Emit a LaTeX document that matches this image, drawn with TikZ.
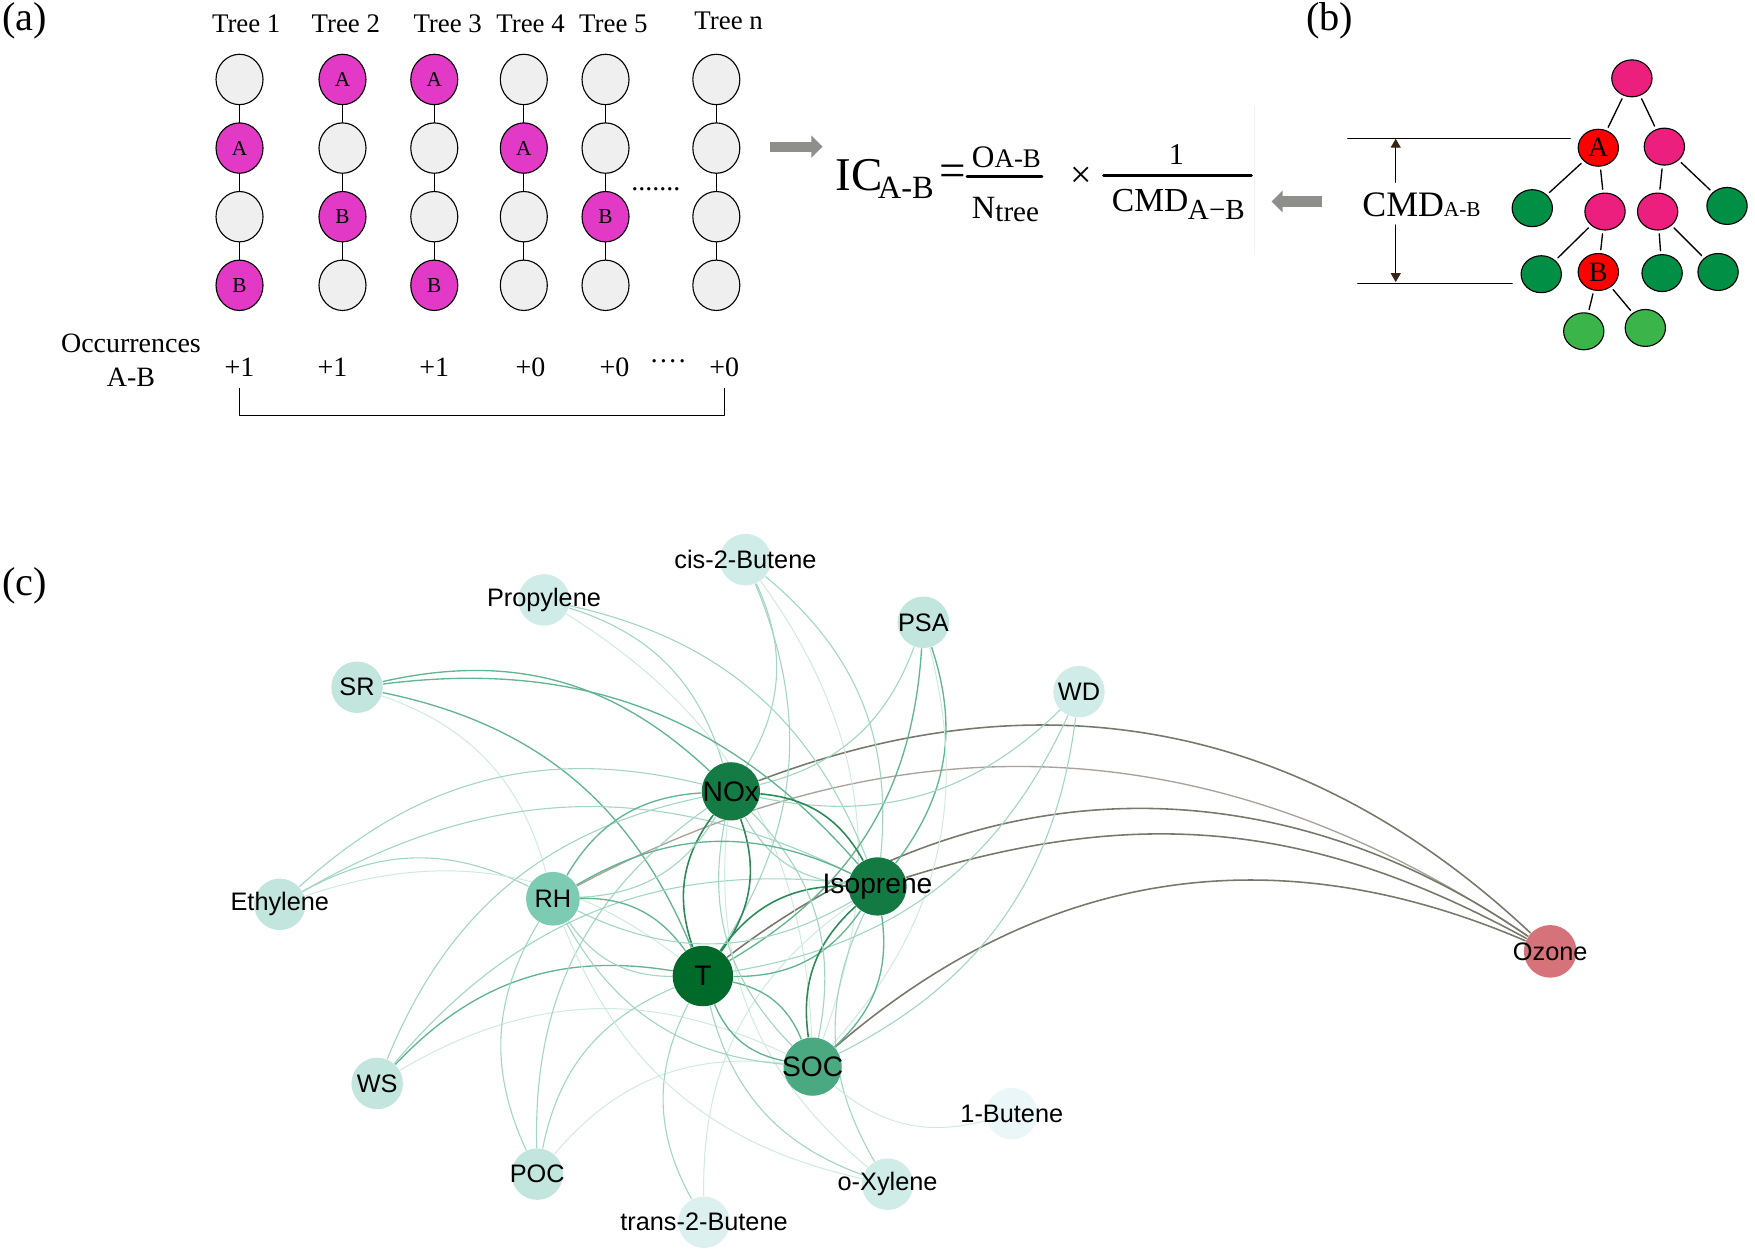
\documentclass[tikz,border=0pt]{standalone}
\usepackage{fontspec}
\setmainfont{Liberation Serif}
\newfontfamily\netfont{Liberation Sans}
\usetikzlibrary{shapes.geometric,arrows.meta}
\pgfdeclarelayer{edges}
\pgfsetlayers{edges,main}

% panel (a) and (b)
\definecolor{cellgray}{HTML}{EFEFEF}
\definecolor{hitmag}{HTML}{E23AC6}
\definecolor{treepink}{HTML}{EC1F7E}
\definecolor{treered}{HTML}{FF0000}
\definecolor{treegreen}{HTML}{008F45}
\definecolor{leafgreen}{HTML}{3BB54A}
\definecolor{arrowgray}{HTML}{8E8E8A}
\definecolor{tipbrown}{HTML}{3A2416}
% panel (c)
\definecolor{pale}{HTML}{C2E6DE}
\definecolor{paler}{HTML}{D0ECE8}
\definecolor{trpale}{HTML}{DCF1EF}
\definecolor{palest}{HTML}{EAF6F8}
\definecolor{rhgreen}{HTML}{7DCBB3}
\definecolor{socgreen}{HTML}{4BA982}
\definecolor{isogreen}{HTML}{147A43}
\definecolor{noxgreen}{HTML}{157B45}
\definecolor{tgreen}{HTML}{006A2B}
\definecolor{ozonered}{HTML}{D5727A}
\definecolor{edgevl}{HTML}{CFEADF}
\definecolor{edgel}{HTML}{A3D6C2}
\definecolor{edgem}{HTML}{63B591}
\definecolor{edged}{HTML}{2A8A57}
\definecolor{ozdark}{HTML}{77776A}
\definecolor{ozlight}{HTML}{A8A29A}

\tikzset{
  panel/.style={font=\fontsize{18}{20}\selectfont},
  treelab/.style={font=\fontsize{12}{14}\selectfont},
  occ/.style={font=\fontsize{12.5}{15}\selectfont},
  cell/.style={draw, ellipse, line width=0.5pt, fill=cellgray, minimum width=21pt,
    minimum height=22.5pt, inner sep=0pt, font=\fontsize{9.5}{10}\selectfont},
  hit/.style={fill=hitmag},
  bigarrow/.style={line width=4.5pt, draw=arrowgray, line cap=butt,
    -{Triangle[length=5pt,width=9.5pt]}},
  tn/.style={draw, ellipse, line width=0.5pt, minimum width=18pt, minimum height=16.5pt,
    inner sep=0pt, font=\fontsize{12.5}{13}\selectfont},
  tedge/.style={line width=0.6pt, shorten <=1.5pt, shorten >=1.5pt},
  dimarrow/.style={line width=0.5pt, -{Triangle[length=4pt,width=4.5pt,color=tipbrown]}},
  vx/.style={circle, inner sep=0pt, minimum size=23pt, fill=pale},
  hub/.style={vx, minimum size=26pt},
  vlab/.style={font=\netfont\fontsize{11.3}{12}\selectfont},
  hlab/.style={font=\netfont\fontsize{12.6}{13}\selectfont},
  arc/.style={bend left=28},
  e1/.style={arc, draw=edgevl, line width=0.45pt},
  e2/.style={arc, draw=edgel, line width=0.5pt},
  e3/.style={arc, draw=edgem, line width=0.6pt},
  e4/.style={arc, draw=edged, line width=0.7pt},
  ozd/.style={arc, draw=ozdark, line width=0.7pt},
  ozl/.style={arc, draw=ozlight, line width=0.6pt},
}

\begin{document}
\begin{tikzpicture}[x=0.5pt,y=0.5pt,line cap=round,line join=round]
\useasboundingbox (0,0) rectangle (1568,-1118);

% ---------- (a) ----------
\node[panel] (pa) at (22,-19) {(a)};
\foreach \c/\x in {1/220,2/309,3/400,4/474,5/548}
  \node[treelab] (lab\c) at (\x,-21) {Tree \c};
\node[treelab] (labn) at (651,-19) {Tree n};

\foreach \c/\x/\pat in {1/214/{x,A,x,B},2/306/{A,x,B,x},3/388/{A,x,x,B},
                        4/468/{x,A,x,x},5/541/{x,x,B,x},n/640/{x,x,x,x}}{
  \foreach \l [count=\r] in \pat {
    \pgfmathsetmacro\yy{-71-61.3*(\r-1)}
    \if\l x
      \node[cell] (t\c r\r) at (\x,\yy) {};
    \else
      \node[cell,hit] (t\c r\r) at (\x,\yy) {\l};
    \fi
  }
  \foreach \r in {1,2,3}{
    \pgfmathtruncatemacro\s{\r+1}
    \draw[line width=0.5pt] (t\c r\r) -- (t\c r\s);
  }
}
\node[occ] (gapdots) at (586,-169) {.......};

\node[occ, align=center] (occlab) at (117,-322) {Occurrences\\A-B};
\foreach \k/\x/\v in {1/214/+1,2/297/+1,3/388/+1,4/474/+0,5/549/+0,6/647/+0}
  \node[occ] (occ\k) at (\x,-328) {\v};
\node[occ] (occdots) at (597,-326) {····};
\coordinate (brl) at (214,-347);
\coordinate (brr) at (647,-347);
\draw[line width=0.5pt] (brl) -- ++(0,-24) -| (brr);

% ---------- formula ----------
\coordinate (ra1) at (688,-131);
\coordinate (ra2) at (735,-131);
\draw[bigarrow] (ra1) -- (ra2);
\node[anchor=base west, inner sep=0pt, font=\fontsize{21}{22}\selectfont] (ic) at (746,-170) {IC};
\node[anchor=base west, inner sep=0pt, font=\fontsize{14.5}{15}\selectfont] (icsub) at (784,-177) {A-B};
\node[inner sep=0pt, font=\fontsize{21}{22}\selectfont] (eq) at (851,-157) {=};
\coordinate (f1l) at (864,-158);
\coordinate (f1r) at (931,-158);
\draw[line width=1.2pt] (f1l) -- (f1r);
\node[anchor=base west, inner sep=0pt, font=\fontsize{14}{15}\selectfont] (onum) at (868,-150)
  {O{\fontsize{12}{13}\selectfont A-B}};
\node[anchor=base west, inner sep=0pt, font=\fontsize{14.5}{15}\selectfont] (nden) at (868,-195)
  {N\raisebox{-1.5pt}{\fontsize{13}{14}\selectfont tree}};
\node[inner sep=0pt, font=\fontsize{17}{18}\selectfont] (times) at (966,-158) {×};
\coordinate (f2l) at (986,-157);
\coordinate (f2r) at (1118,-157);
\draw[line width=1.3pt] (f2l) -- (f2r);
\node[anchor=base, inner sep=0pt, font=\fontsize{13.5}{14}\selectfont] (one) at (1051,-147) {1};
\node[anchor=base west, inner sep=0pt, font=\fontsize{15}{16}\selectfont] (cmdden) at (993,-189) {CMD};
\node[anchor=base west, inner sep=0pt, font=\fontsize{13}{14}\selectfont] (cmdsub) at (1061,-196) {A−B};
\coordinate (fl1) at (1121,-95);
\coordinate (fl2) at (1121,-226);
\draw[black!5] (fl1) -- (fl2);
\coordinate (la1) at (1181,-180);
\coordinate (la2) at (1136,-180);
\draw[bigarrow] (la1) -- (la2);

% ---------- (b) ----------
\node[panel] (pb) at (1188,-19) {(b)};
\node[tn, fill=treepink] (root) at (1458,-70) {};
\node[tn, fill=treered] (na) at (1428,-132) {A};
\node[tn, fill=treepink] (p1) at (1487,-131) {};
\node[tn, fill=treegreen] (g1) at (1369,-186) {};
\node[tn, fill=treepink] (p2) at (1434,-189) {};
\node[tn, fill=treepink] (p3) at (1481,-189) {};
\node[tn, fill=treegreen] (g2) at (1543,-184) {};
\node[tn, fill=treegreen] (g3) at (1377,-245) {};
\node[tn, fill=treered] (nb) at (1428,-243) {B};
\node[tn, fill=treegreen] (g4) at (1485,-244) {};
\node[tn, fill=treegreen] (g5) at (1535,-243) {};
\node[tn, fill=leafgreen] (l1) at (1415,-296) {};
\node[tn, fill=leafgreen] (l2) at (1470,-293) {};
\foreach \u/\v in {root/na,root/p1,na/g1,na/p2,p1/p3,p1/g2,p2/g3,p2/nb,p3/g4,p3/g5,nb/l1,nb/l2}
  \draw[tedge] (\u) -- (\v);

\coordinate (dtl) at (1204,-123.5);
\coordinate (dtr) at (1403,-123.5);
\coordinate (dbl) at (1213,-253);
\coordinate (dbr) at (1351,-253);
\draw[line width=0.6pt] (dtl) -- (dtr);
\draw[line width=0.6pt] (dbl) -- (dbr);
\node[inner sep=0pt] (cmd) at (1270,-183)
  {\fontsize{16}{17}\selectfont CMD{\fontsize{9.5}{10}\selectfont A-B}};
\coordinate (cmdup) at (1247,-163);
\coordinate (cmdtop) at (1247,-124);
\coordinate (cmddn) at (1247,-201);
\coordinate (cmdbot) at (1247,-252);
\draw[dimarrow] (cmdup) -- (cmdtop);
\draw[dimarrow] (cmddn) -- (cmdbot);

% ---------- (c) ----------
\node[panel] (pc) at (22,-523) {(c)};
\node[vx, fill=paler, label={[vlab]center:cis-2-Butene}] (cis) at (666,-500) {};
\node[vx, fill=paler, label={[vlab]center:Propylene}] (prop) at (486,-536) {};
\node[vx, label={[vlab]center:PSA}] (psa) at (825,-556) {};
\node[vx, label={[vlab]center:SR}] (sr) at (319,-614) {};
\node[vx, fill=paler, label={[vlab]center:WD}] (wd) at (964,-618) {};
\node[hub, fill=noxgreen, label={[hlab]center:NOx}] (nox) at (653,-707) {};
\node[vx, label={[vlab]center:Ethylene}] (eth) at (250,-808) {};
\node[vx, minimum size=24pt, fill=rhgreen, label={[vlab]center:RH}] (rh) at (494,-803) {};
\node[hub, fill=isogreen, label={[hlab]center:Isoprene}] (iso) at (784,-792) {};
\node[vx, minimum size=23.5pt, fill=ozonered, label={[vlab]center:Ozone}] (oz) at (1385,-850) {};
\node[hub, minimum size=27pt, fill=tgreen, label={[hlab]center:T}] (t) at (628,-872) {};
\node[hub, fill=socgreen, label={[hlab]center:SOC}] (soc) at (726,-953) {};
\node[vx, label={[vlab]center:WS}] (ws) at (337,-968) {};
\node[vx, fill=palest, label={[vlab]center:1-Butene}] (but) at (904,-995) {};
\node[vx, label={[vlab]center:POC}] (poc) at (480,-1049) {};
\node[vx, fill=paler, label={[vlab]center:o-Xylene}] (oxy) at (793,-1058) {};
\node[vx, fill=trpale, label={[vlab]center:trans-2-Butene}] (trans) at (629,-1092) {};

\begin{pgfonlayer}{edges}
% links to ozone
\draw[ozd, bend left=32] (nox) to (oz);
\draw[ozl, bend left=31] (rh) to (oz);
\draw[ozd, bend left=23] (iso) to (oz);
\draw[ozd, bend left=36] (t) to (oz);
\draw[ozd, bend left=32] (soc) to (oz);
% outer variables
\foreach \u/\v/\s in {cis/nox/e2,cis/t/e2,cis/iso/e2,cis/soc/e1,
    prop/nox/e2,prop/iso/e2,prop/soc/e1,
    psa/nox/e2,psa/t/e3,psa/iso/e3,psa/soc/e1,
    sr/nox/e3,sr/iso/e3,sr/t/e3,sr/rh/e1,
    wd/nox/e2,wd/t/e2,wd/soc/e2,
    eth/nox/e2,eth/iso/e2,eth/rh/e2,eth/t/e1,
    ws/nox/e2,ws/iso/e2,ws/t/e3,ws/soc/e1,
    poc/rh/e2,poc/t/e2,poc/nox/e2,poc/soc/e1,
    trans/t/e2,trans/iso/e1,
    oxy/iso/e2,oxy/t/e2,oxy/rh/e1,oxy/nox/e1,
    but/soc/e1}
  \draw[\s] (\u) to (\v);
% core variables
\foreach \u/\v/\s in {nox/t/e4,t/nox/e4,nox/iso/e4,iso/nox/e2,
    t/iso/e4,iso/t/e3,t/soc/e3,soc/t/e3,iso/soc/e3,soc/iso/e4,
    nox/soc/e2,soc/nox/e2,rh/nox/e3,nox/rh/e2,rh/t/e3,t/rh/e2,
    rh/iso/e3,iso/rh/e2,soc/rh/e2}
  \draw[\s] (\u) to (\v);
\end{pgfonlayer}
\end{tikzpicture}
\end{document}
